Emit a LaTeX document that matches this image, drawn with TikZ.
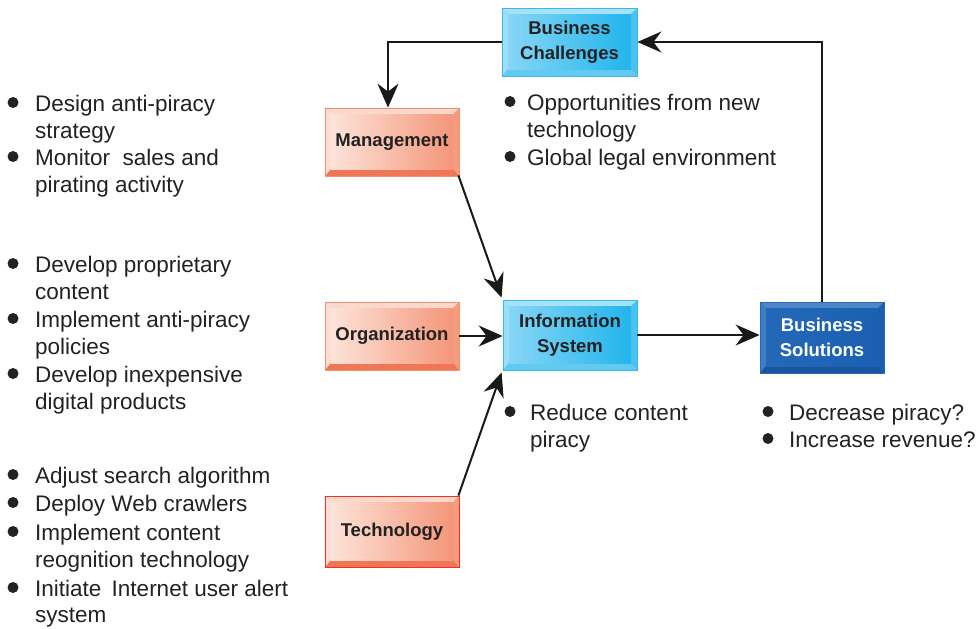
\documentclass[tikz,border=0pt]{standalone}
\usepackage{fontspec}
\setmainfont{Liberation Sans}
\usetikzlibrary{arrows.meta}
\definecolor{txtgray}{HTML}{222222}
\definecolor{ORborder}{HTML}{F2916F}
\definecolor{ORtop}{HTML}{FBD8CB}
\definecolor{ORleft}{HTML}{FCDDD1}
\definecolor{ORright}{HTML}{F59C80}
\definecolor{ORbottom}{HTML}{EF7656}
\definecolor{ORinL}{HTML}{FDE3D9}
\definecolor{ORinR}{HTML}{F4967A}
\definecolor{LBborder}{HTML}{3BB8EA}
\definecolor{LBtop}{HTML}{A6E3F8}
\definecolor{LBleft}{HTML}{9ADFF7}
\definecolor{LBright}{HTML}{4CC3EE}
\definecolor{LBbottom}{HTML}{62C9F0}
\definecolor{LBinL}{HTML}{86D6F6}
\definecolor{LBinR}{HTML}{22B5EC}
\definecolor{DBborder}{HTML}{2A6AB5}
\definecolor{DBtop}{HTML}{4C87CA}
\definecolor{DBleft}{HTML}{3F7DC4}
\definecolor{DBright}{HTML}{1E5EAE}
\definecolor{DBbottom}{HTML}{1A55A2}
\definecolor{DBinL}{HTML}{2468B8}
\definecolor{DBinR}{HTML}{1C60B2}
\newcommand\bevpic[6]{%
  \fill[#1] (path picture bounding box.north west) rectangle (path picture bounding box.south east);
  \fill[#2] (path picture bounding box.north west) -- (path picture bounding box.south west)
     -- ([shift={(6pt,6pt)}]path picture bounding box.south west) -- ([shift={(6pt,-6pt)}]path picture bounding box.north west) -- cycle;
  \fill[#3] (path picture bounding box.north east) -- (path picture bounding box.south east)
     -- ([shift={(-6pt,6pt)}]path picture bounding box.south east) -- ([shift={(-6pt,-6pt)}]path picture bounding box.north east) -- cycle;
  \fill[#4] (path picture bounding box.south west) -- (path picture bounding box.south east)
     -- ([shift={(-6pt,7pt)}]path picture bounding box.south east) -- ([shift={(6pt,7pt)}]path picture bounding box.south west) -- cycle;
  \shade[left color=#5,right color=#6] ([shift={(6pt,7pt)}]path picture bounding box.south west) rectangle ([shift={(-6pt,-6pt)}]path picture bounding box.north east);
}
\tikzset{
  boxbase/.style={rectangle, inner sep=0pt, line width=0.8pt, minimum width=134pt, minimum height=68pt,
    align=center, font=\bfseries\fontsize{18.5}{25}\selectfont, text=txtgray},
  obox/.style={boxbase, draw=ORborder, path picture={\bevpic{ORtop}{ORleft}{ORright}{ORbottom}{ORinL}{ORinR}}},
  lbox/.style={boxbase, draw=LBborder, path picture={\bevpic{LBtop}{LBleft}{LBright}{LBbottom}{LBinL}{LBinR}}},
  dbox/.style={boxbase, draw=DBborder, text=white, path picture={\bevpic{DBtop}{DBleft}{DBright}{DBbottom}{DBinL}{DBinR}}},
  arr/.style={draw=black!90, line width=2pt, -{Stealth[length=24pt,width=21pt,inset=8pt]}},
  txt/.style={anchor=base west, inner sep=0pt, font=\fontsize{22.5}{27}\selectfont, text=txtgray},
  bul/.style={circle, fill=txtgray, inner sep=0pt, minimum size=11pt}
}
\newcounter{tl}
\newcommand\tline[3]{\stepcounter{tl}\node[txt] (tl\arabic{tl}) at (#1,#2) {#3};}
\newcommand\bul[2]{\stepcounter{tl}\node[bul] (bl\arabic{tl}) at (#1,#2-8.5) {};}
\begin{document}
\begin{tikzpicture}[x=1pt,y=-1pt]
\useasboundingbox (0,0) rectangle (980,629);
% boxes
\node[lbox, minimum width=135pt] (bc) at (569.5,42) {Business\\Challenges};
\node[obox] (mg) at (392,142) {Management};
\node[obox] (og) at (392,336) {Organization};
\node[lbox, minimum height=70pt] (is) at (570,335) {Information\\System};
\node[dbox, minimum width=124pt, minimum height=71pt] (bs) at (822,337.5) {Business\\Solutions};
\node[obox, draw=red!70!ORborder, minimum height=71pt] (tc) at (392,531.5) {Technology};
% connectors
\draw[arr] (bc.west) -| ([xshift=-4pt]mg.north);
\draw[arr] (bs.north) |- (bc.east);
\draw[arr] ([shift={(-1pt,1pt)}]mg.south east) -- ([shift={(-1pt,2pt)}]is.north west);
\draw[arr] (og.east) -- (og.east -| is.west);
\draw[arr] ([shift={(-1pt,0pt)}]tc.north east) -- ([shift={(-1pt,-2pt)}]is.south west);
\draw[arr] (is.east) -- (is.east -| bs.west);
% left texts group 1
\bul{13}{111}\tline{35}{111}{Design anti-piracy}
\tline{35}{138}{strategy}
\bul{13}{165}\tline{35}{165}{Monitor\ \ sales and}
\tline{35}{192}{pirating activity}
% group 2
\bul{13}{272}\tline{35}{272}{Develop proprietary}
\tline{35}{299}{content}
\bul{13}{327}\tline{35}{327}{Implement anti-piracy}
\tline{35}{354}{policies}
\bul{13}{382}\tline{35}{382}{Develop inexpensive}
\tline{35}{409}{digital products}
% group 3
\bul{13}{483}\tline{35}{483}{Adjust search algorithm}
\bul{13}{511}\tline{35}{511}{Deploy Web crawlers}
\bul{13}{540}\tline{35}{540}{Implement content}
\tline{35}{567}{reognition technology}
\bul{13}{596}\tline{35}{596}{Initiate\hspace{4pt} Internet user alert}
\tline{35}{622}{system}
% business challenges
\bul{510}{110}\tline{527}{110}{Opportunities from new}
\tline{527}{137}{technology}
\bul{510}{165}\tline{527}{165}{Global legal environment}
% information system
\bul{510}{420}\tline{530}{420}{Reduce content}
\tline{530}{447}{piracy}
% business solutions
\bul{768}{420}\tline{789}{420}{Decrease piracy?}
\bul{768}{447}\tline{789}{447}{Increase revenue?}
\end{tikzpicture}
\end{document}
